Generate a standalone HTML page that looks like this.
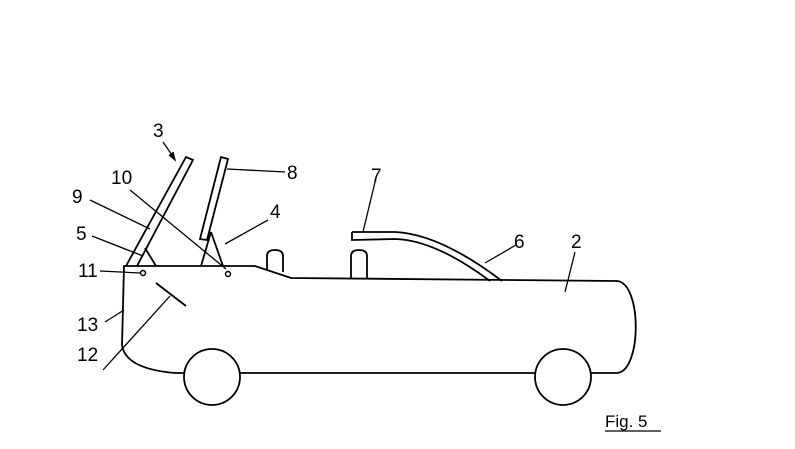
<!DOCTYPE html>
<html><head><style>html,body{margin:0;padding:0;background:#fff}svg{display:block}</style></head><body>
<svg width="795" height="449" viewBox="0 0 795 449" xmlns="http://www.w3.org/2000/svg" font-family="Liberation Sans, sans-serif" font-size="19" fill="none" stroke="#000" stroke-width="1.8">
<!-- body -->
<path d="M124 266 L255 266 L291 278 L617 281 C642 283 642 371 617 373 L175 373 C140 370 124 360 122 345 Z"/>
<circle cx="212" cy="377" r="28" fill="#fff"/>
<circle cx="563" cy="377" r="28" fill="#fff"/>
<!-- headrests -->
<path d="M267 270 L267 256 Q267 250 275 250 Q283 250 283 256 L283 272"/>
<path d="M351 279 L351 256 Q351 250 359 250 Q367 250 367 256 L367 279"/>
<!-- windshield 3 -->
<path d="M126 266 L186 157 L193 160 L137 266"/>
<path d="M145 248 L156 266"/>
<!-- bar 8 -->
<path d="M200 239 L221 157 L228 159 L207 240 Z"/>
<path d="M211 232 L201 266 M211 232 L223 266"/>
<!-- pivots -->
<circle cx="143" cy="273" r="2.5" stroke-width="1.5"/>
<circle cx="228" cy="274" r="2.5" stroke-width="1.5"/>
<!-- 12 element -->
<path d="M156 283 L186 306"/>
<!-- rear bow 7 -->
<path d="M352 232 L395 232 Q440 234 502 281 M352 232 L352 240 L395 239 Q435 240 490 281"/>
<!-- leaders -->
<g stroke-width="1.3">
<path d="M163 142 L174 158"/><path d="M169 155 L175 160 L173 152" fill="#000"/>
<path d="M90 200 L150 229"/>
<path d="M130 190 L226 269"/>
<path d="M92 236 L143 256"/>
<path d="M100 271 L140 273"/>
<path d="M105 322 L124 310"/>
<path d="M103 370 L170 296"/>
<path d="M227 169 L285 172"/>
<path d="M225 244 L268 220"/>
<path d="M375 182 L363 232"/>
<path d="M485 263 L516 245"/>
<path d="M565 292 L575 252"/>
</g>
<g fill="#000" stroke="none">
<text x="153" y="137">3</text>
<text x="72" y="203">9</text>
<text x="111" y="184">10</text>
<text x="76" y="240">5</text>
<text x="78" y="277">11</text>
<text x="77" y="331">13</text>
<text x="77" y="361">12</text>
<text x="287" y="179">8</text>
<text x="270" y="218">4</text>
<text x="371" y="182">7</text>
<text x="514" y="248">6</text>
<text x="571" y="248">2</text>
<text x="605" y="427" font-size="17">Fig. 5</text>
</g>
<path d="M605 431 L661 431" stroke-width="1.3"/>
</svg>
</body></html>
